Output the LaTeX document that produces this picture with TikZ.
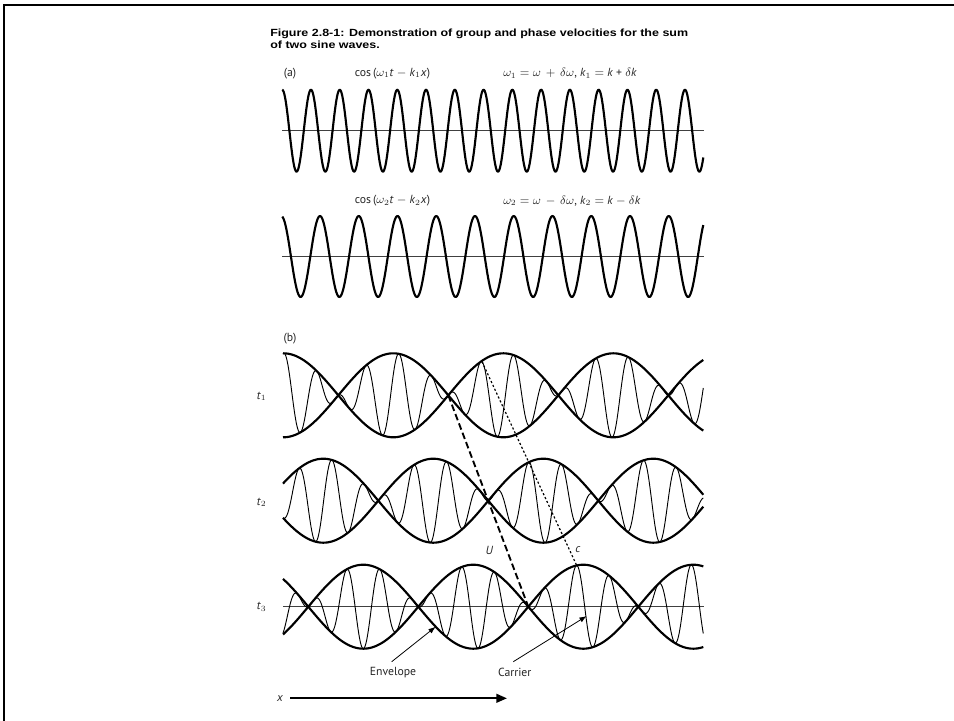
\documentclass[tikz,border=0pt]{standalone}
\usepackage{fontspec}
\setmainfont{PT Sans}
\newfontfamily\titlefont[FakeStretch=1.2]{Liberation Sans}
\usetikzlibrary{arrows.meta}
\begin{document}
\begin{tikzpicture}[x=0.75pt,y=-0.75pt,
  wave/.style={line width=1.6pt,line join=round},
  envl/.style={line width=1.6pt,line join=round},
  carr/.style={line width=0.7pt,line join=round},
  axisl/.style={line width=0.9pt,black!75},
  lab/.style={font=\fontsize{8.8}{10}\selectfont,inner sep=0pt,text=black!85},
  ttl/.style={font=\titlefont\bfseries\fontsize{7.8}{9}\selectfont,inner sep=0pt,anchor=base west},
  ptr/.style={line width=0.6pt,-{Latex[length=5.5pt,width=4pt]}},
  Uline/.style={line width=1.4pt,dash pattern=on 5pt off 2.5pt},
  cline/.style={line width=0.9pt,dash pattern=on 1.6pt off 1.6pt},
  xarr/.style={line width=1.6pt,-{Triangle[length=8pt,width=6.5pt]}}]
\useasboundingbox (0,0) rectangle (954,721);
\fill[white] (0,0) rectangle (954,721);
% frame
\draw[line width=1.8pt] (4,721) -- (4,5) -- (954,5);
% title
\node[ttl] (title1) at (270,36.5) {Figure 2.8-1: Demonstration of group and phase velocities for the sum};
\node[ttl] (title2) at (270,48.5) {of two sine waves.};
% panel (a)
\node[lab] (la) at (290,73.6) {(a)};
\node[lab,anchor=west] (f1) at (354.6,73.6) {cos\,(\(\omega_1\)\textit{t} \(-\) \textit{k}\(_1\)\textit{x})};
\node[lab,anchor=west] (d1) at (503,73.6) {\(\omega_1 = \omega\, +\, \delta\omega\), \textit{k}\(_1 =\) \textit{k} + \(\delta\)\textit{k}};
\draw[axisl] (282,130.7) -- (704,130.7);
\draw[wave] plot[domain=282.2:703.3,samples=600] (\x,{130.7-41*cos(12.5130*(\x-282.2))});
\node[lab,anchor=west] (f2) at (354.6,201) {cos\,(\(\omega_2\)\textit{t} \(-\) \textit{k}\(_2\)\textit{x})};
\node[lab,anchor=west] (d2) at (503,201) {\(\omega_2 = \omega\, -\, \delta\omega\), \textit{k}\(_2 =\) \textit{k} \(-\) \(\delta\)\textit{k}};
\draw[axisl] (282,256.7) -- (704,256.7);
\draw[wave] plot[domain=282.3:703.3,samples=500] (\x,{256.5-40.5*cos(9.2903*(\x-281.25))});
% panel (b)
\node[lab] (lb) at (290,338.9) {(b)};
\draw[axisl] (283,606.7) -- (704,606.7);
\foreach \yc/\xe/\xc in {395.3/283.3/284, 500.7/323.3/331.85, 606.7/363.3/379.7} {
  \draw[envl] plot[domain=283:703.3,samples=220] (\x,{\yc-42*cos(1.63636*(\x-\xe))});
  \draw[envl] plot[domain=283:703.3,samples=220] (\x,{\yc+42*cos(1.63636*(\x-\xe))});
  \draw[carr] plot[domain=283:703.3,samples=700] (\x,{\yc-42*cos(1.63636*(\x-\xe))*cos(10.97561*(\x-\xc))});
}
\node[lab] (t1) at (261.6,396.3) {\textit{t}\(_1\)};
\node[lab] (t2) at (261.6,502.5) {\textit{t}\(_2\)};
\node[lab] (t3) at (261.6,607) {\textit{t}\(_3\)};
% group and phase lines
\coordinate (Ua) at (448.3,395.3);
\coordinate (Ub) at (528.3,606.7);
\coordinate (ca) at (482,361.7);
\coordinate (cb) at (576.5,565);
\draw[Uline] (Ua) -- (Ub);
\draw[cline] (ca) -- (cb);
\node[lab] (U) at (489.5,550) {\textit{U}};
\node[lab] (c) at (578,550) {\textit{c}};
% pointers
\node[lab] (envlab) at (393,672.7) {Envelope};
\node[lab] (carlab) at (514.7,672.7) {Carrier};
\coordinate (envtail) at (391.7,661.7);
\coordinate (envtip) at (435.7,626.7);
\coordinate (cartail) at (513.3,661.7);
\coordinate (cartip) at (586.7,616);
\draw[ptr] (envtail) -- (envtip);
\draw[ptr] (cartail) -- (cartip);
% x axis arrow
\node[lab] (xl) at (280,698.3) {\textit{x}};
\coordinate (xs) at (290,698.3);
\coordinate (xe) at (507,698.3);
\draw[xarr] (xs) -- (xe);
\end{tikzpicture}
\end{document}
